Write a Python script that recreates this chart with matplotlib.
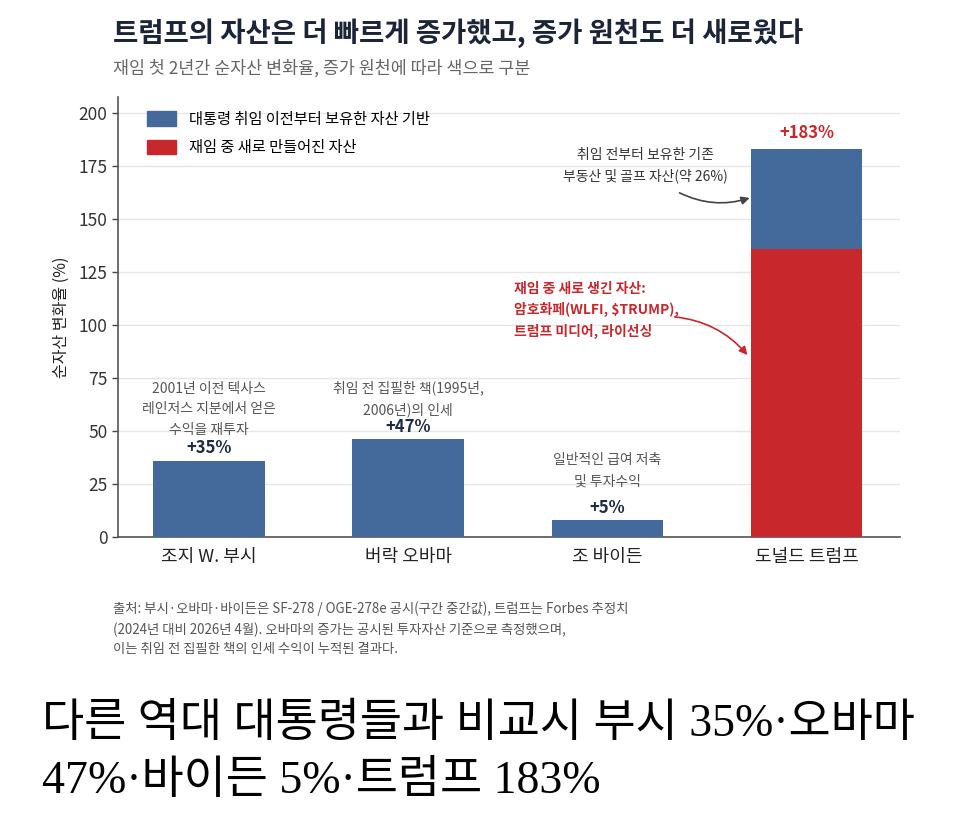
import matplotlib
matplotlib.use("Agg")
import matplotlib.pyplot as plt
from matplotlib.patches import Patch

plt.rcParams['font.family'] = ['Noto Sans CJK KR', 'DejaVu Sans']

# ---- data ----
presidents = ["조지 W. 부시", "버락 오바마", "조 바이든", "도널드 트럼프"]
pre_office = [36, 46, 8, 47]      # blue: assets held before taking office
new_assets = [0, 0, 0, 136]       # red: assets created during the term
value_labels = ["+35%", "+47%", "+5%", "+183%"]
notes = ["2001년 이전 텍사스\n레인저스 지분에서 얻은\n수익을 재투자",
         "취임 전 집필한 책(1995년,\n2006년)의 인세",
         "일반적인 급여 저축\n및 투자수익",
         None]
yticks = [0, 25, 50, 75, 100, 125, 150, 175, 200]
legend_labels = ["대통령 취임 이전부터 보유한 자산 기반", "재임 중 새로 만들어진 자산"]

title = "트럼프의 자산은 더 빠르게 증가했고, 증가 원천도 더 새로웠다"
subtitle = "재임 첫 2년간 순자산 변화율, 증가 원천에 따라 색으로 구분"
ylabel = "순자산 변화율 (%)"
footnote = ("출처: 부시·오바마·바이든은 SF-278 / OGE-278e 공시(구간 중간값), 트럼프는 Forbes 추정치\n"
            "(2024년 대비 2026년 4월). 오바마의 증가는 공시된 투자자산 기준으로 측정했으며,\n"
            "이는 취임 전 집필한 책의 인세 수익이 누적된 결과다.")
note_trump_old = "취임 전부터 보유한 기존\n부동산 및 골프 자산(약 26%)"
note_trump_new = "재임 중 새로 생긴 자산:\n암호화페(WLFI, $TRUMP),\n트럼프 미디어, 라이선싱"
caption = "다른 역대 대통령들과 비교시 부시 35%·오바마\n47%·바이든 5%·트럼프 183%"

BLUE = "#44699b"
RED = "#c8282c"

W, H = 967, 836
fig = plt.figure(figsize=(W / 100, H / 100), dpi=100)
fig.patch.set_facecolor("white")

def fx(px):
    return px / W

def fy(py):
    return 1 - py / H

ax = fig.add_axes([fx(118), fy(537), fx(900) - fx(118), fy(97) - fy(537)])

x = list(range(len(presidents)))
bar_w = 0.56
ax.bar(x, new_assets, width=bar_w, color=RED, zorder=3)
ax.bar(x, pre_office, width=bar_w, bottom=new_assets, color=BLUE, zorder=3)

handles = [Patch(color=BLUE), Patch(color=RED)]
ax.legend(handles, legend_labels, loc="upper left", frameon=False,
          bbox_to_anchor=(0.02, 1.0), fontsize=11, handlelength=1.9,
          handleheight=1.1, labelspacing=0.75, handletextpad=0.85)

ax.set_xlim(-0.457, 3.47)
ax.set_ylim(0, 207.5)
ax.set_yticks(yticks)
ax.set_xticks(x)
ax.set_xticklabels(presidents, fontsize=13, color="#222222")
ax.tick_params(axis="y", labelsize=12.5, colors="#444444", length=4, width=1)
ax.tick_params(axis="x", length=0, pad=8)
for lbl in ax.get_yticklabels():
    lbl.set_color("#333333")
ax.grid(axis="y", color="#e6e6e6", linewidth=1, zorder=0)
ax.set_axisbelow(True)
for s in ["top", "right"]:
    ax.spines[s].set_visible(False)
ax.spines["left"].set_color("#555555")
ax.spines["bottom"].set_color("#555555")
ax.spines["left"].set_linewidth(1.2)
ax.spines["bottom"].set_linewidth(1.2)
ax.set_ylabel(ylabel, fontsize=11.5, color="#222222", labelpad=6)

totals = [a + b for a, b in zip(pre_office, new_assets)]
note_offsets = {0: 17, 1: 16, 2: 23}
for i, (t, lab) in enumerate(zip(totals, value_labels)):
    col = RED if i == 3 else "#1f2a44"
    ax.annotate(lab, (i, t), xytext=(0, 2.5 if i < 3 else 5), textcoords="offset points",
                ha="center", va="bottom", fontsize=12, fontweight="bold", color=col)
    if notes[i]:
        ax.annotate(notes[i], (i, t), xytext=(0, note_offsets[i]), textcoords="offset points",
                    ha="center", va="bottom", fontsize=10, color="#555555",
                    style="italic", linespacing=1.6)

# Trump annotations with curved arrows
ax.text(2.19, 175, note_trump_old, ha="center", va="center", fontsize=10,
        color="#333333", linespacing=1.55)
ax.annotate("", xy=(2.715, 159.9), xytext=(2.363, 162.3),
            arrowprops=dict(arrowstyle="-|>", color="#444444", lw=1.2,
                            connectionstyle="arc3,rad=0.2", shrinkA=0, shrinkB=0,
                            mutation_scale=12))
ax.text(1.53, 107, note_trump_new, ha="left", va="center", fontsize=10,
        color=RED, linespacing=1.55, fontweight="bold")
ax.annotate("", xy=(2.704, 85.8), xytext=(2.338, 103.8),
            arrowprops=dict(arrowstyle="-|>", color=RED, lw=1.2,
                            connectionstyle="arc3,rad=-0.2", shrinkA=0, shrinkB=0,
                            mutation_scale=12))

fig.text(fx(113), fy(33), title, fontsize=19.8, fontweight="bold", color="#1c2438",
         ha="left", va="center")
fig.text(fx(113), fy(68), subtitle, fontsize=12.5, color="#666666", style="italic",
         ha="left", va="center")
fig.text(fx(113), fy(629), footnote, fontsize=9.6, color="#555555", ha="left",
         va="center", linespacing=1.5)
fig.text(fx(42), fy(753), caption, fontsize=33,
         family=["Liberation Serif", "Noto Sans CJK KR"], color="#000000",
         ha="left", va="center", linespacing=1.45)

fig.savefig("out.png", dpi=100, facecolor="white")
